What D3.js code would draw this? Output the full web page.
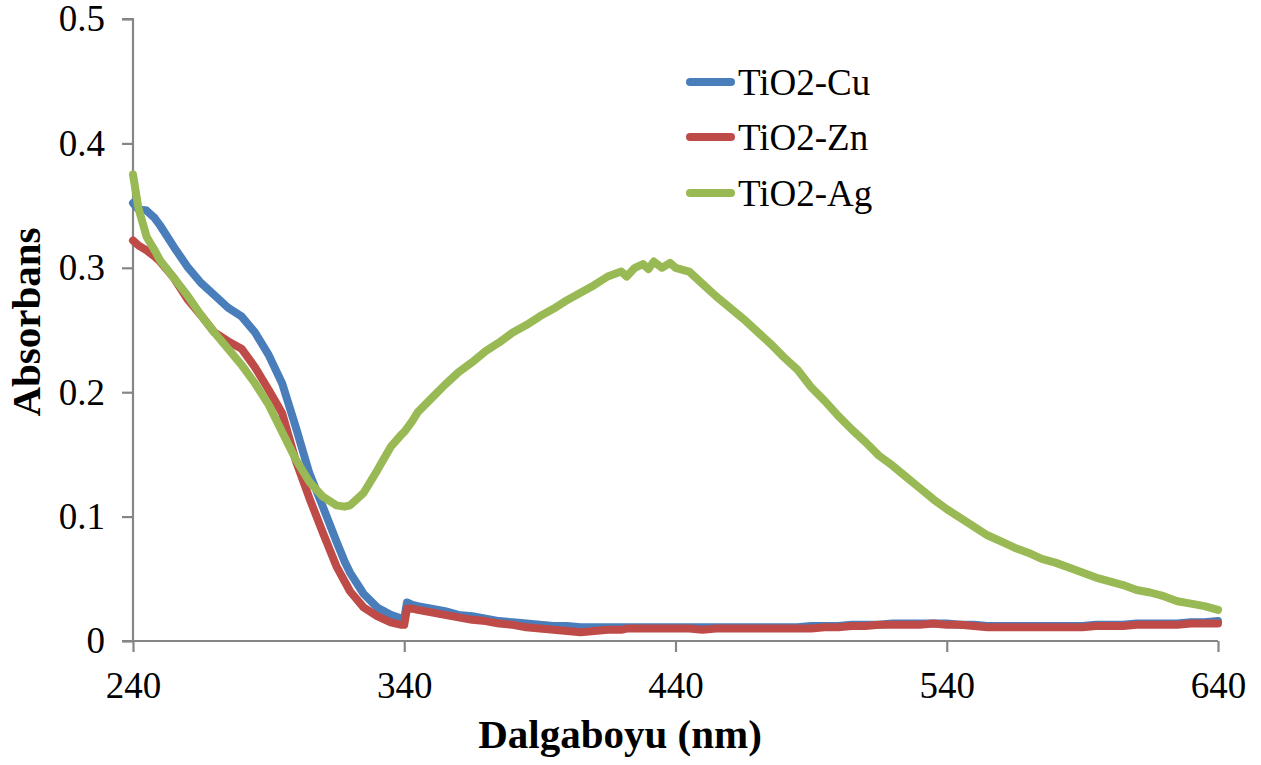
<!DOCTYPE html>
<html>
<head>
<meta charset="utf-8">
<script src="https://cdn.jsdelivr.net/npm/d3@7"></script>
<style>
  html, body { margin: 0; padding: 0; background: #fff; }
  svg { display: block; }
  text { font-family: "Liberation Serif", "Times New Roman", serif; }
</style>
</head>
<body>
<svg id="chart" width="1261" height="765"></svg>
<script>
// ---- data ----
const wavelengths = [240,242,245,248,250,255,260,265,270,275,280,285,290,295,300,305,310,315,318,320,325,330,335,339,340,341,343,345,350,355,360,365,370,375,380,385,390,395,400,405,410,415,420,422,425,428,430,432,435,438,440,445,450,455,460,465,470,475,480,485,490,495,500,505,510,515,520,525,530,535,540,545,550,555,560,565,570,575,580,585,590,595,600,605,610,615,620,625,630,635,640];

const cuValues = [0.352,0.347,0.346,0.340,0.334,0.317,0.301,0.288,0.278,0.268,0.261,0.248,0.230,0.207,0.172,0.135,0.108,0.080,0.064,0.055,0.038,0.027,0.021,0.018,0.018,0.031,0.029,0.028,0.026,0.024,0.021,0.020,0.018,0.016,0.015,0.014,0.013,0.012,0.012,0.011,0.011,0.011,0.011,0.011,0.011,0.011,0.011,0.011,0.011,0.011,0.011,0.011,0.011,0.011,0.011,0.011,0.011,0.011,0.011,0.011,0.012,0.012,0.012,0.013,0.013,0.013,0.014,0.014,0.014,0.014,0.014,0.013,0.013,0.012,0.012,0.012,0.012,0.012,0.012,0.012,0.012,0.013,0.013,0.013,0.014,0.014,0.014,0.014,0.015,0.015,0.016];

const znValues = [0.322,0.318,0.314,0.309,0.305,0.292,0.275,0.262,0.248,0.241,0.235,0.220,0.202,0.183,0.145,0.115,0.087,0.060,0.048,0.040,0.027,0.020,0.015,0.013,0.013,0.026,0.026,0.025,0.023,0.021,0.019,0.017,0.016,0.014,0.013,0.011,0.010,0.009,0.008,0.007,0.008,0.009,0.009,0.010,0.010,0.010,0.010,0.010,0.010,0.010,0.010,0.010,0.009,0.010,0.010,0.010,0.010,0.010,0.010,0.010,0.010,0.011,0.011,0.012,0.012,0.013,0.013,0.013,0.013,0.014,0.013,0.013,0.012,0.011,0.011,0.011,0.011,0.011,0.011,0.011,0.011,0.012,0.012,0.012,0.013,0.013,0.013,0.013,0.014,0.014,0.014];

const agValues = [0.375,0.348,0.325,0.314,0.306,0.292,0.278,0.262,0.248,0.235,0.222,0.207,0.190,0.168,0.146,0.128,0.116,0.109,0.108,0.109,0.119,0.137,0.156,0.166,0.168,0.171,0.177,0.184,0.195,0.206,0.216,0.224,0.233,0.240,0.248,0.254,0.261,0.267,0.274,0.280,0.286,0.293,0.297,0.293,0.300,0.303,0.299,0.305,0.300,0.304,0.300,0.297,0.287,0.277,0.268,0.259,0.249,0.239,0.228,0.218,0.204,0.193,0.181,0.170,0.160,0.149,0.141,0.132,0.123,0.114,0.106,0.099,0.092,0.085,0.080,0.075,0.071,0.066,0.063,0.059,0.055,0.051,0.048,0.045,0.041,0.039,0.036,0.032,0.030,0.028,0.025];

const seriesNames = ["TiO2-Cu", "TiO2-Zn", "TiO2-Ag"];
const seriesColors = ["#4A7EBB", "#BE4B48", "#98B954"];
const xTicks = [240, 340, 440, 540, 640];
const yTicks = [0, 0.1, 0.2, 0.3, 0.4, 0.5];
const xTitle = "Dalgaboyu (nm)";
const yTitle = "Absorbans";

// ---- layout ----
const svg = d3.select("#chart");
const plotLeft = 133, plotRight = 1218, plotTop = 19, plotBottom = 641;

const x = d3.scaleLinear().domain([240, 640]).range([plotLeft, plotRight]);
const y = d3.scaleLinear().domain([0, 0.5]).range([plotBottom, plotTop]);

const axisColor = "#868686";

// Y axis
const yAxis = d3.axisLeft(y).tickValues(yTicks).tickSize(11).tickPadding(17)
  .tickFormat(d => d === 0 ? "0" : d3.format(".1f")(d));
const gy = svg.append("g").attr("transform", `translate(${plotLeft},0)`).call(yAxis);
gy.select(".domain").attr("stroke", axisColor).attr("stroke-width", 2.2).attr("d", `M-11,${plotTop}H0V${plotBottom}`);
gy.selectAll(".tick line").attr("stroke", axisColor).attr("stroke-width", 2.2);
gy.selectAll(".tick text").attr("font-size", 37).attr("fill", "#000")
  .attr("font-family", "Liberation Serif, Times New Roman, serif");

// X axis
const xAxis = d3.axisBottom(x).tickValues(xTicks).tickSize(11).tickPadding(20);
const gx = svg.append("g").attr("transform", `translate(0,${plotBottom})`).call(xAxis);
gx.select(".domain").attr("stroke", axisColor).attr("stroke-width", 2.2).attr("d", `M${plotLeft - 11},0H${plotRight}`);
gx.selectAll(".tick line").attr("stroke", axisColor).attr("stroke-width", 2.2);
gx.selectAll(".tick text").attr("font-size", 37).attr("fill", "#000")
  .attr("font-family", "Liberation Serif, Times New Roman, serif");

// Titles
svg.append("text").attr("x", 620).attr("y", 748).attr("text-anchor", "middle")
  .attr("font-size", 41).attr("font-weight", "bold").text(xTitle);
svg.append("text").attr("transform", "translate(40,322) rotate(-90)").attr("text-anchor", "middle")
  .attr("font-size", 41).attr("font-weight", "bold").text(yTitle);

// Lines
const allValues = [cuValues, znValues, agValues];
const line = d3.line().x((d, i) => x(wavelengths[i])).y(d => y(d)).curve(d3.curveLinear);
allValues.forEach((vals, k) => {
  svg.append("path").datum(vals)
    .attr("fill", "none")
    .attr("stroke", seriesColors[k])
    .attr("stroke-width", 8)
    .attr("stroke-linejoin", "round")
    .attr("stroke-linecap", "round")
    .attr("d", line);
});

// Legend
const legendY = [82, 137, 193];
seriesNames.forEach((name, k) => {
  svg.append("line").attr("x1", 690).attr("x2", 731)
    .attr("y1", legendY[k]).attr("y2", legendY[k])
    .attr("stroke", seriesColors[k]).attr("stroke-width", 8).attr("stroke-linecap", "round");
  svg.append("text").attr("x", 738).attr("y", legendY[k]).attr("dy", "0.35em")
    .attr("font-size", 37).attr("fill", "#000").text(name);
});
</script>
</body>
</html>
